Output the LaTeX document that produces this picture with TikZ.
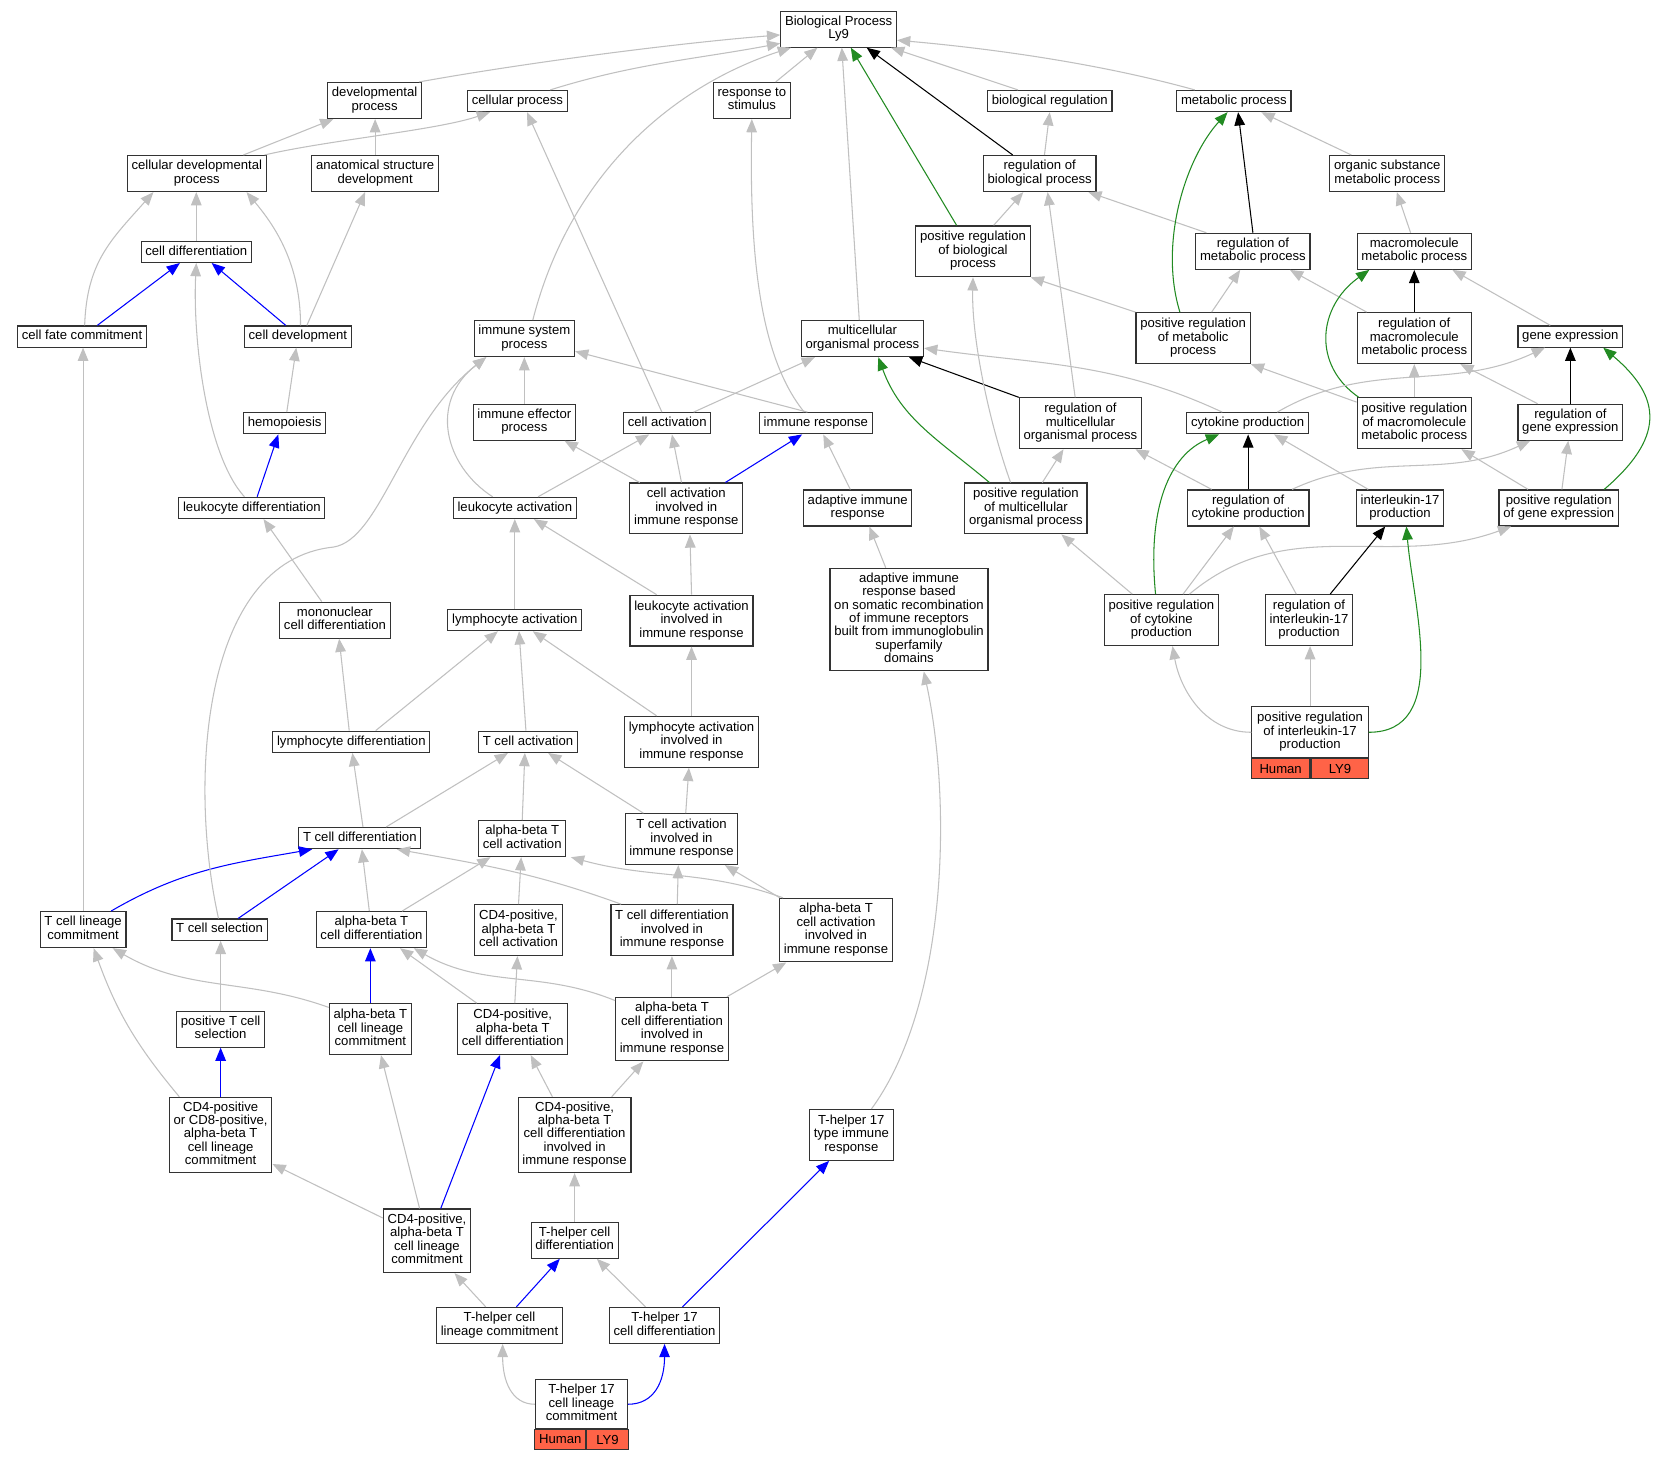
\documentclass[tikz,border=0pt]{standalone}
\usepackage{fontspec}
\setmainfont{Liberation Sans}
\usetikzlibrary{arrows.meta,calc}
\definecolor{egray}{RGB}{192,192,192}
\definecolor{egreen}{RGB}{34,139,34}
\definecolor{eblue}{RGB}{0,0,255}
\definecolor{tomatoc}{RGB}{255,99,71}
\newcommand{\gostrut}{\vrule height 9.6pt depth 3.4pt width 0pt\relax}
\tikzset{
  gobox/.style={draw=black!80, line width=1.1pt, fill=white, inner xsep=4pt, inner ysep=1pt, align=center,
    font=\fontsize{12.4}{12.7}\selectfont, execute at begin node=\gostrut, execute at end node=\gostrut},
  lnA/.style={minimum height=20pt},
  lnB/.style={minimum height=34pt},
  lnC/.style={minimum height=48pt},
  lnD/.style={minimum height=60pt},
  lnE/.style={minimum height=71pt},
  lnG/.style={minimum height=97pt},
  cellbox/.style={draw=black!80, line width=1.1pt, fill=tomatoc, inner sep=0pt, outer sep=0pt,
    minimum height=19.5pt, font=\fontsize{12.4}{12.7}\selectfont},
  gl/.style={draw=egray, line width=1pt, -{Triangle[length=12.5pt,width=10pt]}},
  kl/.style={draw=black, line width=1pt, -{Triangle[length=12.5pt,width=10pt]}},
  grl/.style={draw=egreen, line width=1pt, -{Triangle[length=12.5pt,width=10pt]}},
  bl/.style={draw=eblue, line width=1pt, -{Triangle[length=12.5pt,width=10pt]}}
}
\begin{document}
\begin{tikzpicture}[x=1pt,y=-1pt]
\useasboundingbox (0,0) rectangle (1568.7,1380.6);
\fill[white] (0,0) rectangle (1568.7,1380.6);
% nodes
\node[gobox,lnB] (BP) at (792.5,27.5) {Biological Process\\Ly9};
\node[gobox,lnB] (dev) at (354,95) {developmental\\process};
\node[gobox,lnA] (cp) at (489,95.5) {cellular process};
\node[gobox,lnB] (rts) at (710.5,95) {response to\\stimulus};
\node[gobox,lnA] (br) at (992,95.5) {biological regulation};
\node[gobox,lnA] (mp) at (1166,95.5) {metabolic process};
\node[gobox,lnB] (cdp) at (186,164) {cellular developmental\\process};
\node[gobox,lnB] (asd) at (354.5,164) {anatomical structure\\development};
\node[gobox,lnB] (rbp) at (982.5,164) {regulation of\\biological process};
\node[gobox,lnB] (osmp) at (1311,164) {organic substance\\metabolic process};
\node[gobox,lnC] (prbp) at (919.5,237.5) {positive regulation\\of biological\\process};
\node[gobox,lnB] (rmp) at (1184,237.5) {regulation of\\metabolic process};
\node[gobox,lnB] (mmp) at (1336.5,237.5) {macromolecule\\metabolic process};
\node[gobox,lnA] (cd) at (185.5,238) {cell differentiation};
\node[gobox,lnA] (cfc) at (77.5,318) {cell fate commitment};
\node[gobox,lnA] (cdev) at (281.5,318) {cell development};
\node[gobox,lnB] (isp) at (495.5,320) {immune system\\process};
\node[gobox,lnB] (mop) at (815,320) {multicellular\\organismal process};
\node[gobox,lnC] (prmp) at (1127.5,319.5) {positive regulation\\of metabolic\\process};
\node[gobox,lnC] (rmmp) at (1336.5,319.5) {regulation of\\macromolecule\\metabolic process};
\node[gobox,lnA] (ge) at (1484,318) {gene expression};
\node[gobox,lnA] (hem) at (269,400) {hemopoiesis};
\node[gobox,lnB] (iep) at (495.5,399) {immune effector\\process};
\node[gobox,lnA] (ca) at (630.5,400) {cell activation};
\node[gobox,lnA] (ir) at (771,400) {immune response};
\node[gobox,lnC] (rmop) at (1021,400) {regulation of\\multicellular\\organismal process};
\node[gobox,lnA] (cyp) at (1179,400) {cytokine production};
\node[gobox,lnC] (prmmp) at (1336.5,400) {positive regulation\\of macromolecule\\metabolic process};
\node[gobox,lnB] (rge) at (1484,399) {regulation of\\gene expression};
\node[gobox,lnA] (ld) at (238,480) {leukocyte differentiation};
\node[gobox,lnA] (la) at (486.5,480) {leukocyte activation};
\node[gobox,lnC] (caiir) at (648.5,480.5) {cell activation\\involved in\\immune response};
\node[gobox,lnB] (air) at (810.5,480) {adaptive immune\\response};
\node[gobox,lnC] (prmop) at (969.5,480.5) {positive regulation\\of multicellular\\organismal process};
\node[gobox,lnB] (rcp) at (1179.5,480) {regulation of\\cytokine production};
\node[gobox,lnB] (il17) at (1323,480) {interleukin-17\\production};
\node[gobox,lnB] (prge) at (1473,480) {positive regulation\\of gene expression};
\node[gobox,lnB] (mcd) at (316.5,586) {mononuclear\\cell differentiation};
\node[gobox,lnA] (lya) at (486.5,586) {lymphocyte activation};
\node[gobox,lnC] (laiir) at (653.5,586.5) {leukocyte activation\\involved in\\immune response};
\node[gobox,lnG] (airb) at (859,585.5) {adaptive immune\\response based\\on somatic recombination\\of immune receptors\\built from immunoglobulin\\superfamily\\domains};
\node[gobox,lnC] (prcp) at (1097.5,586) {positive regulation\\of cytokine\\production};
\node[gobox,lnC] (ril17) at (1237,586) {regulation of\\interleukin-17\\production};
\node[gobox,lnC,minimum width=110pt] (pril17) at (1238,692) {positive regulation\\of interleukin-17\\production};
\node[cellbox,minimum width=55.5pt,anchor=north west] (pril17h) at (pril17.south west) {Human};
\node[cellbox,minimum width=54.5pt,anchor=north east] (pril17g) at (pril17.south east) {LY9};
\node[gobox,lnA] (lyd) at (332,701) {lymphocyte differentiation};
\node[gobox,lnA] (tca) at (499,701) {T cell activation};
\node[gobox,lnC] (lyaiir) at (653.5,701) {lymphocyte activation\\involved in\\immune response};
\node[gobox,lnA] (tcd) at (340,792) {T cell differentiation};
\node[gobox,lnB] (abtca) at (493.5,792.5) {alpha-beta T\\cell activation};
\node[gobox,lnC] (tcaiir) at (644,793) {T cell activation\\involved in\\immune response};
\node[gobox,lnB] (tclc) at (78.5,878.5) {T cell lineage\\commitment};
\node[gobox,lnA] (tcs) at (207.5,878.5) {T cell selection};
\node[gobox,lnB] (abtcd) at (351,878.5) {alpha-beta T\\cell differentiation};
\node[gobox,lnC] (cdfa) at (490,879) {CD4-positive,\\alpha-beta T\\cell activation};
\node[gobox,lnC] (tcdiir) at (635,879) {T cell differentiation\\involved in\\immune response};
\node[gobox,lnD] (abtcaiir) at (790,879) {alpha-beta T\\cell activation\\involved in\\immune response};
\node[gobox,lnB] (ptcs) at (208.5,972.5) {positive T cell\\selection};
\node[gobox,lnC] (abtclc) at (350,972.5) {alpha-beta T\\cell lineage\\commitment};
\node[gobox,lnC] (cdfd) at (484.5,972.5) {CD4-positive,\\alpha-beta T\\cell differentiation};
\node[gobox,lnD] (abtcdiir) at (635,972.5) {alpha-beta T\\cell differentiation\\involved in\\immune response};
\node[gobox,lnE] (cd48) at (208.5,1072.5) {CD4-positive\\or CD8-positive,\\alpha-beta T\\cell lineage\\commitment};
\node[gobox,lnE] (cdfdiir) at (543,1072.5) {CD4-positive,\\alpha-beta T\\cell differentiation\\involved in\\immune response};
\node[gobox,lnC] (th17ir) at (804.5,1072.5) {T-helper 17\\type immune\\response};
\node[gobox,lnD] (cdflc) at (403.5,1172.5) {CD4-positive,\\alpha-beta T\\cell lineage\\commitment};
\node[gobox,lnB] (thcd) at (543,1172) {T-helper cell\\differentiation};
\node[gobox,lnB] (thclc) at (472,1252.5) {T-helper cell\\lineage commitment};
\node[gobox,lnB] (th17cd) at (628,1252.5) {T-helper 17\\cell differentiation};
\node[gobox,minimum height=46pt,minimum width=87pt] (th17clc) at (549.5,1327) {T-helper 17\\cell lineage\\commitment};
\node[cellbox,minimum width=48pt,anchor=north west] (th17clch) at (th17clc.south west) {Human};
\node[cellbox,minimum width=39pt,anchor=north east] (th17clcg) at (th17clc.south east) {LY9};
% edges into Biological Process
\draw[gl] ([xshift=42pt]dev.north) .. controls +(100,-18) and +(-100,8) .. ([yshift=-5.5pt]BP.west);
\draw[gl] ([xshift=31pt]cp.north) .. controls +(80,-25) and +(-80,15) .. ([yshift=-13.5pt]BP.west);
\draw[gl] ([xshift=8pt]isp.north) .. controls (540,160) and (640,80) .. ([xshift=-45pt]BP.south);
\draw[gl] ([xshift=22.5pt]rts.north) -- ([xshift=-20pt]BP.south);
\draw[gl] ([xshift=-3pt]mop.north) -- ([xshift=3pt]BP.south);
\draw[grl] ([xshift=-15.5pt]prbp.north) -- ([xshift=11.5pt]BP.south);
\draw[kl] ([xshift=-25.5pt]rbp.north) -- ([xshift=26.5pt]BP.south);
\draw[gl] ([xshift=-30pt]br.north) -- ([xshift=49.5pt]BP.south);
\draw[gl] ([xshift=-37pt]mp.north) .. controls +(-90,-25) and +(90,8) .. ([yshift=-10.5pt]BP.east);
% left part
\draw[gl] ([xshift=44pt]cdp.north) -- ([xshift=-39pt]dev.south);
\draw[gl] ([xshift=64pt]cdp.north) .. controls +(60,-14) and +(-50,17) .. ([xshift=-26pt]cp.south);
\draw[gl] (asd.north) -- (asd.north |- dev.south);
\draw[gl] (cd.north) -- (cd.north |- cdp.south);
\draw[gl] ([xshift=2.5pt]cfc.north) .. controls +(2,-60) and +(-40,45) .. ([xshift=-41pt]cdp.south);
\draw[gl] ([xshift=2.5pt]cdev.north) .. controls +(0,-60) and +(25,30) .. ([xshift=47pt]cdp.south);
\draw[gl] ([xshift=8.5pt]cdev.north) -- ([xshift=-9.5pt]asd.south);
\draw[bl] ([xshift=14.5pt]cfc.north) -- ([xshift=-15.5pt]cd.south);
\draw[bl] ([xshift=-11.5pt]cdev.north) -- ([xshift=14.5pt]cd.south);
\draw[gl] ([xshift=2pt]hem.north) -- ([xshift=-1.5pt]cdev.south);
\draw[bl] ([xshift=5pt]ld.north) -- ([xshift=-6pt]hem.south);
\draw[gl] ([xshift=-7pt]ld.north) .. controls (195,430) and (182,320) .. (cd.south);
\draw[gl] ([xshift=-12.5pt]mcd.north) -- ([xshift=11pt]ld.south);
\draw[gl] ([xshift=-2pt]lyd.north) -- ([xshift=4pt]mcd.south);
\draw[gl] ([xshift=23pt]lyd.north) -- ([xshift=-16pt]lya.south);
\draw[gl] ([xshift=3pt]tcd.north) -- ([xshift=1pt]lyd.south);
\draw[gl] ([xshift=25pt]tcd.north) -- ([xshift=-19pt]tca.south);
\draw[gl] (tclc.north) -- (tclc.north |- cfc.south);
\draw[bl] ([xshift=26.5pt]tclc.north) .. controls +(67,-39) and +(-77,13.5) .. ([xshift=-45pt]tcd.south);
\draw[bl] ([xshift=17.5pt]tcs.north) -- ([xshift=-20pt]tcd.south);
\draw[gl] ([xshift=-1pt]tcs.north) .. controls (178,740) and (190,530) .. (315,517) .. controls (360,510) and (380,400) .. ([xshift=-36pt]isp.south);
\draw[gl] ([xshift=-21pt]la.north) .. controls (420,440) and (405,380) .. ([xshift=-36pt]isp.south);
\draw[gl] (iep.north) -- (isp.south);
\draw[gl] ([xshift=-8pt]ir.north) -- ([yshift=-12pt]isp.east);
\draw[gl] ([xshift=-11pt]ir.north) .. controls (720,340) and (708,250) .. (rts.south);
\draw[gl] ([xshift=-5pt]ca.north) -- ([xshift=9pt]cp.south);
\draw[gl] ([xshift=25pt]ca.north) -- ([xshift=-45pt]mop.south);
\draw[gl] ([xshift=-4.5pt]caiir.north) -- ([xshift=4.5pt]ca.south);
\draw[gl] ([xshift=-44pt]caiir.north) -- ([xshift=38pt]iep.south);
\draw[bl] ([xshift=37pt]caiir.north) -- ([xshift=-13pt]ir.south);
\draw[gl] ([xshift=22pt]la.north) -- ([xshift=-17pt]ca.south);
\draw[gl] ([xshift=-7pt]air.north) -- ([xshift=7pt]ir.south);
\draw[gl] ([xshift=-33pt]laiir.north) -- ([xshift=18pt]la.south);
\draw[gl] (laiir.north) -- ([xshift=3.5pt]caiir.south);
\draw[gl] (lya.north) -- (la.south);
\draw[gl] ([xshift=-22pt]airb.north) -- ([xshift=11pt]air.south);
\draw[gl] ([xshift=-33pt]lyaiir.north) -- ([xshift=17pt]lya.south);
\draw[gl] (lyaiir.north) -- (laiir.south);
\draw[gl] ([xshift=-2pt]tca.north) -- ([xshift=4pt]lya.south);
\draw[gl] ([xshift=-36pt]tcaiir.north) -- ([xshift=19pt]tca.south);
\draw[gl] ([xshift=4pt]tcaiir.north) -- ([xshift=-2.5pt]lyaiir.south);
\draw[gl] (abtca.north) -- ([xshift=-3pt]tca.south);
\draw[gl] ([xshift=-2pt]abtcd.north) -- ([xshift=2pt]tcd.south);
\draw[gl] ([xshift=29pt]abtcd.north) -- ([xshift=-30pt]abtca.south);
\draw[gl] ([xshift=-48pt]tcdiir.north) .. controls +(-80,-29) and +(84,15) .. ([xshift=35pt]tcd.south);
\draw[gl] ([xshift=5pt]tcdiir.north) -- ([xshift=-3pt]tcaiir.south);
\draw[gl] ([xshift=-50pt]abtcaiir.north) .. controls +(-75,-27) and +(77,21) .. ([xshift=46pt]abtca.south);
\draw[gl] ([xshift=-53pt]abtcaiir.north) -- ([xshift=41pt]tcaiir.south);
\draw[gl] (cdfa.north) -- ([xshift=-1pt]abtca.south);
\draw[gl] (ptcs.north) -- (ptcs.north |- tcs.south);
\draw[bl] (abtclc.north) -- (abtclc.north |- abtcd.south);
\draw[gl] ([yshift=20.5pt]abtclc.west) .. controls +(-78,-28) and +(72,41.5) .. ([xshift=28pt]tclc.south);
\draw[gl] ([xshift=-34pt]cdfd.north) -- ([xshift=27pt]abtcd.south);
\draw[gl] ([yshift=27pt]abtcdiir.west) .. controls +(-71,-29) and +(67,38) .. ([xshift=40pt]abtcd.south);
\draw[gl] ([xshift=2pt]cdfd.north) -- ([xshift=-1pt]cdfa.south);
\draw[gl] (abtcdiir.north) -- (tcdiir.south);
\draw[gl] ([xshift=52pt]abtcdiir.north) -- ([xshift=-47pt]abtcaiir.south);
\draw[bl] (cd48.north) -- (cd48.north |- ptcs.south);
\draw[gl] ([xshift=-39pt]cd48.north) .. controls +(-40.8,-48.6) and +(21.7,59.7) .. ([xshift=10pt]tclc.south);
\draw[gl] ([yshift=21.5pt]cdflc.west) -- ([yshift=-27.5pt]cd48.east);
\draw[gl] ([xshift=-7pt]cdflc.north) -- ([xshift=10pt]abtclc.south);
\draw[bl] ([xshift=13pt]cdflc.north) -- ([xshift=-12pt]cdfd.south);
\draw[gl] ([xshift=-21pt]cdfdiir.north) -- ([xshift=17pt]cdfd.south);
\draw[gl] ([xshift=35pt]cdfdiir.north) -- ([xshift=-27pt]abtcdiir.south);
\draw[gl] (thcd.north) -- (cdfdiir.south);
\draw[gl] ([xshift=-13pt]thclc.north) -- ([xshift=26pt]cdflc.south);
\draw[bl] ([xshift=16pt]thclc.north) -- ([xshift=-14pt]thcd.south);
\draw[gl] ([xshift=-18pt]th17cd.north) -- ([xshift=21pt]thcd.south);
\draw[bl] ([xshift=17pt]th17cd.north) -- ([xshift=-21pt]th17ir.south);
\draw[gl] (th17clc.west) .. controls +(-22,0) and +(0,35) .. ([xshift=3pt]thclc.south);
\draw[bl] (th17clc.east) .. controls +(25,0) and +(0,35) .. (th17cd.south);
\draw[gl] ([xshift=19pt]th17ir.north) .. controls (895,950) and (900,760) .. ([xshift=14pt]airb.south);
% right part
\draw[gl] ([xshift=-34pt]osmp.north) -- ([xshift=26pt]mp.south);
\draw[gl] ([xshift=4.5pt]rbp.north) -- (br.south);
\draw[gl] ([xshift=19.5pt]prbp.north) -- ([xshift=-15.5pt]rbp.south);
\draw[kl] (rmp.north) -- ([xshift=4pt]mp.south);
\draw[gl] ([xshift=-44pt]rmp.north) -- ([xshift=46pt]rbp.south);
\draw[gl] ([xshift=-3.5pt]mmp.north) -- ([xshift=9pt]osmp.south);
\draw[grl] ([xshift=-12.5pt]prmp.north) .. controls (1095,230) and (1120,150) .. ([xshift=-6pt]mp.south);
\draw[gl] ([xshift=17.5pt]prmp.north) -- ([xshift=-12pt]rmp.south);
\draw[gl] (prmp.north west) -- (prbp.south east);
\draw[kl] (rmmp.north) -- (mmp.south);
\draw[gl] ([xshift=-45pt]rmmp.north) -- ([xshift=35pt]rmp.south);
\draw[gl] ([xshift=-19pt]ge.north) -- ([xshift=36pt]mmp.south);
\draw[grl] ([xshift=-52.5pt]prmmp.north) .. controls (1240,345) and (1245,290) .. ([xshift=-42.5pt]mmp.south);
\draw[gl] (prmmp.north) -- (rmmp.south);
\draw[gl] ([yshift=20pt]prmmp.west) -- (prmp.south east);
\draw[kl] (rge.north) -- (ge.south);
\draw[gl] ([xshift=-31pt]rge.north) -- ([xshift=43.5pt]rmmp.south);
\draw[gl] ([xshift=3pt]prge.north) -- ([xshift=-2pt]rge.south);
\draw[grl] ([xshift=43pt]prge.north) .. controls +(56,-48) and +(57,48) .. ([xshift=31pt]ge.south);
\draw[gl] ([xshift=-29pt]prge.north) -- ([xshift=44.5pt]prmmp.south);
\draw[kl] (rmop.north west) -- ([xshift=44pt]mop.south);
\draw[gl] ([xshift=-5pt]rmop.north) -- ([xshift=7.5pt]rbp.south);
\draw[gl] ([xshift=-24pt]cyp.north) .. controls +(-101.5,-47.3) and +(111,15.6) .. ([yshift=-9pt]mop.east);
\draw[gl] ([xshift=28pt]cyp.north) .. controls +(88,-51) and +(-92,43) .. ([xshift=-24pt]ge.south);
\draw[kl] (rcp.north) -- (rcp.north |- cyp.south);
\draw[gl] ([xshift=-34.5pt]rcp.north) -- ([xshift=52pt]rmop.south);
\draw[gl] ([xshift=41.5pt]rcp.north) .. controls +(81.6,-38) and +(-81.6,38) .. ([xshift=-38pt]rge.south);
\draw[gl] ([xshift=-30pt]il17.north) -- ([xshift=25pt]cyp.south);
\draw[grl] ([xshift=-5.5pt]prcp.north) .. controls (1084,480) and (1105,430) .. ([xshift=-27pt]cyp.south);
\draw[gl] ([xshift=20.5pt]prcp.north) -- ([xshift=-13.5pt]rcp.south);
\draw[gl] ([xshift=-27.5pt]prcp.north) -- ([xshift=33.5pt]prmop.south);
\draw[gl] ([xshift=26.5pt]prcp.north) .. controls +(93.5,-78.4) and +(-114.6,41.7) .. ([xshift=-45pt]prge.south);
\draw[kl] ([xshift=20pt]ril17.north) -- ([xshift=-14pt]il17.south);
\draw[gl] ([xshift=-12pt]ril17.north) -- ([xshift=10.5pt]rcp.south);
\draw[gl] (pril17.north) -- (pril17.north |- ril17.south);
\draw[gl] (pril17.west) .. controls +(-43,0) and +(7.5,42) .. ([xshift=10.5pt]prcp.south);
\draw[grl] (pril17.east) .. controls +(77,0) and +(6.7,76.7) .. ([xshift=6pt]il17.south);
\draw[grl] ([xshift=-34.5pt]prmop.north) .. controls +(-47.5,-40) and +(21.2,58.3) .. ([xshift=15pt]mop.south);
\draw[gl] ([xshift=15.5pt]prmop.north) -- ([xshift=-16pt]rmop.south);
\draw[gl] ([xshift=-14.5pt]prmop.north) .. controls (935,400) and (918,320) .. (prbp.south);
\end{tikzpicture}
\end{document}
